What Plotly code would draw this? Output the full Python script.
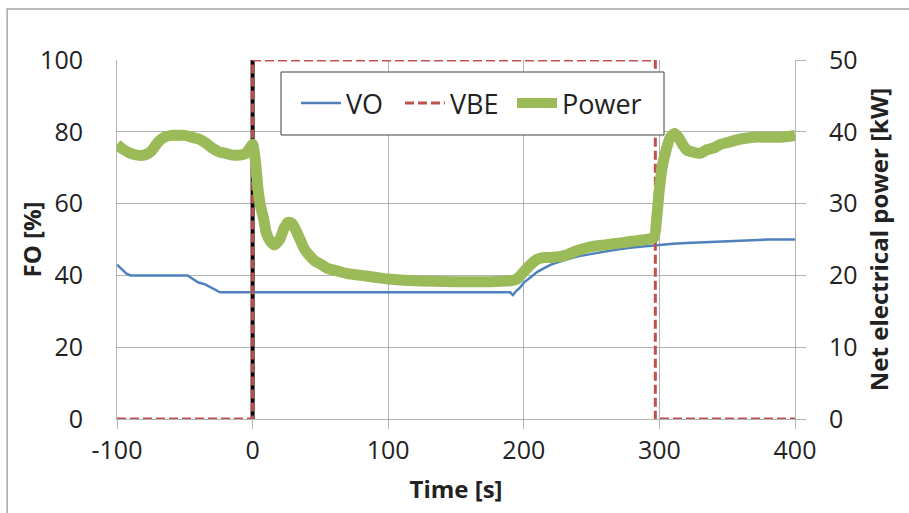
import plotly.graph_objects as go

# ---- Data ----
t_power = [-100, -95, -90, -85, -80, -75, -70, -65, -60, -55, -50, -45, -40, -35, -30, -25, -20, -15, -10, -5, -2,
           0, 2, 4, 6, 8, 10, 13, 16, 20, 23, 26, 29, 32, 35, 38, 42, 46, 50, 55, 60, 70, 80, 90, 100, 120, 140,
           160, 180, 190, 195, 200, 205, 210, 215, 220, 230, 240, 250, 260, 270, 280, 290, 296, 298, 300, 302,
           305, 308, 311, 314, 317, 320, 325, 330, 335, 340, 345, 350, 360, 370, 380, 390, 400]
power_kw = [38.25, 37.5, 37.0, 36.75, 36.75, 37.25, 38.5, 39.25, 39.5, 39.5, 39.5, 39.25, 39.0, 38.5, 37.75,
            37.25, 37.0, 36.75, 36.75, 37.0, 37.75, 38.25, 36.0, 32.0, 29.5, 28.0, 26.0, 24.75, 24.25, 25.0,
            26.5, 27.4, 27.25, 26.25, 25.0, 23.75, 22.75, 22.0, 21.6, 21.0, 20.75, 20.25, 20.0, 19.75, 19.5,
            19.25, 19.15, 19.1, 19.15, 19.25, 19.5, 20.5, 21.5, 22.25, 22.5, 22.5, 22.75, 23.5, 24.0, 24.25,
            24.5, 24.75, 25.0, 25.25, 28.0, 32.0, 35.0, 37.5, 39.25, 39.75, 39.25, 38.25, 37.5, 37.15, 37.0,
            37.5, 37.75, 38.25, 38.5, 39.0, 39.25, 39.25, 39.25, 39.5]

t_vo = [-100, -97, -93, -90, -80, -70, -60, -52, -48, -44, -40, -35, -30, -26, -24, -10, 0, 50, 100, 150, 185,
        190, 192, 194, 197, 200, 205, 210, 215, 220, 230, 240, 250, 260, 270, 280, 290, 297, 300, 310, 320,
        330, 340, 350, 360, 370, 380, 390, 400]
vo = [43, 42, 40.5, 40, 40, 40, 40, 40, 40, 39, 38, 37.5, 36.5, 35.5, 35.3, 35.3, 35.3, 35.3, 35.3, 35.3, 35.3,
      35.3, 34.5, 35.5, 36.5, 38, 39.5, 41, 42, 43, 44.3, 45.3, 46, 46.7, 47.3, 47.8, 48.2, 48.3, 48.4, 48.8,
      49, 49.2, 49.4, 49.6, 49.8, 49.9, 50, 50, 50]

t_vbe = [-100, 0, 0, 297, 297, 400]
vbe = [0, 0, 100, 100, 0, 0]

t_marker = [0, 0]
marker_fo = [0, 100]

x_ticks = [-100, 0, 100, 200, 300, 400]
x_ticklabels = ["-100", "0", "100", "200", "300", "400"]
y_ticks = [0, 20, 40, 60, 80, 100]
y2_ticks = [0, 10, 20, 30, 40, 50]

FONT = "Open Sans, Liberation Sans, sans-serif"
GRID = "#b3b3b3"

fig = go.Figure()
fig.add_trace(go.Scatter(x=t_marker, y=marker_fo, mode="lines", line=dict(color="black", width=4),
                         showlegend=False, hoverinfo="skip"))
fig.add_trace(go.Scatter(x=t_vo, y=vo, mode="lines", name="VO", legend="legend",
                         line=dict(color="#4F81BD", width=2.5)))
fig.add_trace(go.Scatter(x=t_vbe, y=vbe, mode="lines", name="VBE", legend="legend2",
                         line=dict(color="#C0504D", width=3, dash="9px,4px")))
fig.add_trace(go.Scatter(x=t_power, y=power_kw, mode="lines", name="Power", yaxis="y2", legend="legend3",
                         line=dict(color="#9BBB59", width=11, shape="spline", smoothing=0.6)))

leg_common = dict(orientation="h", y=0.947, xanchor="left", yanchor="top",
                  bgcolor="rgba(0,0,0,0)", borderwidth=0,
                  font=dict(size=27, color="#222222"), itemwidth=40)

fig.update_layout(
    width=909, height=513,
    margin=dict(l=117, r=114, t=60, b=94, autoexpand=False),
    paper_bgcolor="white", plot_bgcolor="white",
    font=dict(family=FONT, size=25, color="#222222"),
    xaxis=dict(range=[-100, 400], tickvals=x_ticks, ticktext=x_ticklabels, showgrid=True, gridcolor=GRID,
               gridwidth=1, zeroline=False, showline=True, linecolor=GRID, linewidth=1, ticks="outside",
               ticklen=9, tickcolor=GRID, automargin=False,
               title=dict(text="<b>Time [s]</b>", standoff=16, font=dict(size=24))),
    yaxis=dict(range=[0, 100], tickvals=y_ticks, showgrid=True, gridcolor=GRID, gridwidth=1,
               zeroline=False, showline=True, linecolor=GRID, linewidth=1, ticks="",
               ticklabelstandoff=28, automargin=False),
    yaxis2=dict(range=[0, 50], tickvals=y2_ticks, overlaying="y", side="right", showgrid=False,
                zeroline=False, showline=True, linecolor=GRID, linewidth=1, ticks="outside",
                ticklen=10, tickcolor=GRID, ticklabelstandoff=18, automargin=False,
                title=dict(text="<b>Net electrical power [kW]</b>", standoff=14, font=dict(size=24))),
    legend=dict(x=(296 - 117) / 678, **leg_common),
    legend2=dict(x=(400 - 117) / 678, **leg_common),
    legend3=dict(x=(512 - 117) / 678, **leg_common),
    annotations=[
        dict(text="<b>FO [%]</b>", xref="paper", yref="paper", x=(31 - 117) / 678, y=0.5,
             xanchor="center", yanchor="middle", textangle=-90, showarrow=False,
             font=dict(size=24, color="#222222")),
    ],
    shapes=[
        dict(type="rect", xref="paper", yref="paper", x0=-0.162, x1=1.3, y0=-0.5, y1=1.142,
             line=dict(color="#a6a6a6", width=1.5), layer="below"),
        dict(type="rect", xref="paper", yref="paper", x0=(281 - 117) / 678, x1=(664 - 117) / 678,
             y0=(419 - 135) / 359, y1=(419 - 72) / 359,
             line=dict(color="#404040", width=1), fillcolor="white", layer="above"),
    ],
)

fig.write_html("out.html", config={"displayModeBar": False},
               post_script="document.body.style.margin='0px';document.body.style.padding='0px';")
